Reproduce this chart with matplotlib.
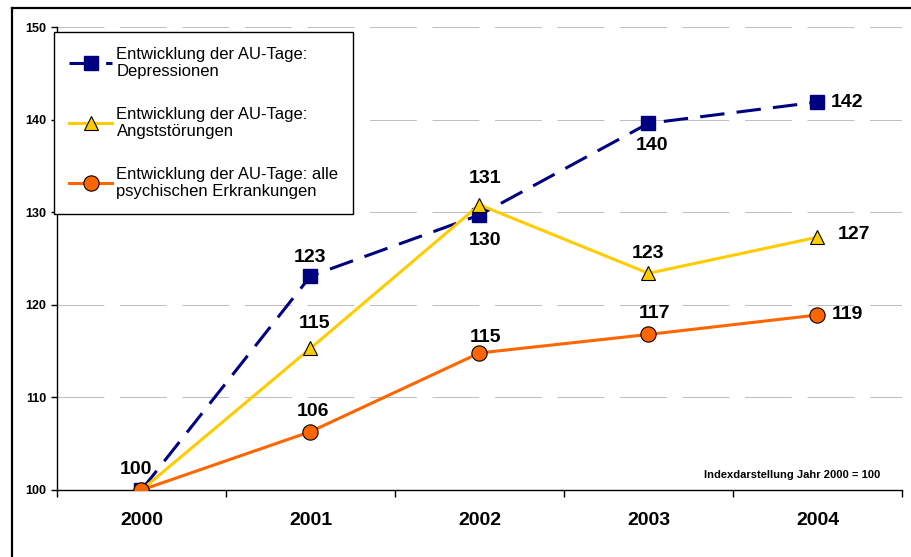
import matplotlib
matplotlib.use("Agg")
import matplotlib.pyplot as plt
from matplotlib.lines import Line2D

plt.rcParams['font.family'] = ['Liberation Sans', 'DejaVu Sans']

years = ["2000", "2001", "2002", "2003", "2004"]
depressionen = [100, 123.1, 129.7, 139.6, 141.9]
angst = [100, 115.3, 130.8, 123.4, 127.3]
alle = [100, 106.3, 114.8, 116.8, 118.9]

lab_dep = "Entwicklung der AU-Tage:\nDepressionen"
lab_angst = "Entwicklung der AU-Tage:\nAngststörungen"
lab_alle = "Entwicklung der AU-Tage: alle\npsychischen Erkrankungen"

fig = plt.figure(figsize=(9.12, 5.57), dpi=100)
ax = fig.add_axes([0.0625, 0.1203, 0.9265, 0.8312])

x = list(range(len(years)))

ax.plot(x, depressionen, color='#000080', lw=2.2, linestyle=(0, (8, 4)),
        marker='s', markersize=10, markerfacecolor='#000080', markeredgecolor='#000080',
        label=lab_dep, zorder=3)
ax.plot(x, angst, color='#FFCC00', lw=2.2, marker='^', markersize=10,
        markerfacecolor='#FFCC00', markeredgecolor='black', markeredgewidth=0.8,
        label=lab_angst, zorder=4)
ax.plot(x, alle, color='#FF6600', lw=2.2, marker='o', markersize=11,
        markerfacecolor='#FF6600', markeredgecolor='black', markeredgewidth=0.8,
        label=lab_alle, zorder=5)

# data labels (offsets in pixels -> points)
px = 0.72
def lab(i, v, dx, dy, ha='center'):
    ax.annotate(f"{round(v)}", (i, v), xytext=(dx * px, dy * px), textcoords='offset points',
                ha=ha, va='center', fontsize=14, fontweight='bold', zorder=6)

lab(0, depressionen[0], -6, 20)
lab(1, depressionen[1], 0, 19)
lab(2, depressionen[2], 6, -26)
lab(3, depressionen[3], 4, -22)
lab(4, depressionen[4], 13, 0, ha='left')
lab(1, angst[1], 4, 25)
lab(2, angst[2], 6, 26)
lab(3, angst[3], 0, 20)
lab(4, angst[4], 20, 3, ha='left')
lab(1, alle[1], 3, 20)
lab(2, alle[2], 6, 15)
lab(3, alle[3], 6, 21)
lab(4, alle[4], 14, 0, ha='left')

ax.set_xlim(-0.5, 4.5)
ax.set_ylim(100, 150)
ax.set_yticks([100, 110, 120, 130, 140, 150])
ax.set_xticks(x)
ax.set_xticklabels(years, fontsize=14, fontweight='bold')
ax.set_xticks([i - 0.5 for i in range(len(years) + 1)], minor=True)
ax.tick_params(axis='x', which='major', length=0, pad=16)
ax.tick_params(axis='x', which='minor', length=5, width=1, direction='out')
ax.tick_params(axis='y', length=4, width=1, labelsize=9)
for t in ax.get_yticklabels():
    t.set_fontweight('bold')

for s in ['top', 'right']:
    ax.spines[s].set_visible(False)
ax.spines['left'].set_linewidth(1)
ax.spines['bottom'].set_linewidth(1)

for yv in [110, 120, 130, 140, 150]:
    ax.axhline(yv, color='#C0C0C0', lw=0.75, linestyle=(0, (45, 15)), zorder=1)

ax.text(0.974, 0.032, "Indexdarstellung Jahr 2000 = 100", transform=ax.transAxes,
        ha='right', va='center', fontsize=8, fontweight='bold')

leg = ax.legend(loc='upper left', bbox_to_anchor=(54 / 912, 1 - 32 / 557),
                bbox_transform=fig.transFigure, fontsize=12, frameon=True,
                fancybox=False, framealpha=1, edgecolor='black',
                handlelength=2.6, handletextpad=0.25, labelspacing=1.7,
                borderpad=0.9, borderaxespad=0)
leg.get_frame().set_linewidth(1)
for t in leg.get_texts():
    t.set_linespacing(1.15)

# outer frame
fig.add_artist(Line2D([12 / 912, 12 / 912], [0, 1 - 8 / 557], transform=fig.transFigure,
                      color='black', lw=1.6))
fig.add_artist(Line2D([12 / 912, 1], [1 - 8 / 557, 1 - 8 / 557], transform=fig.transFigure,
                      color='black', lw=1.6))

fig.savefig("out.png", dpi=100)
